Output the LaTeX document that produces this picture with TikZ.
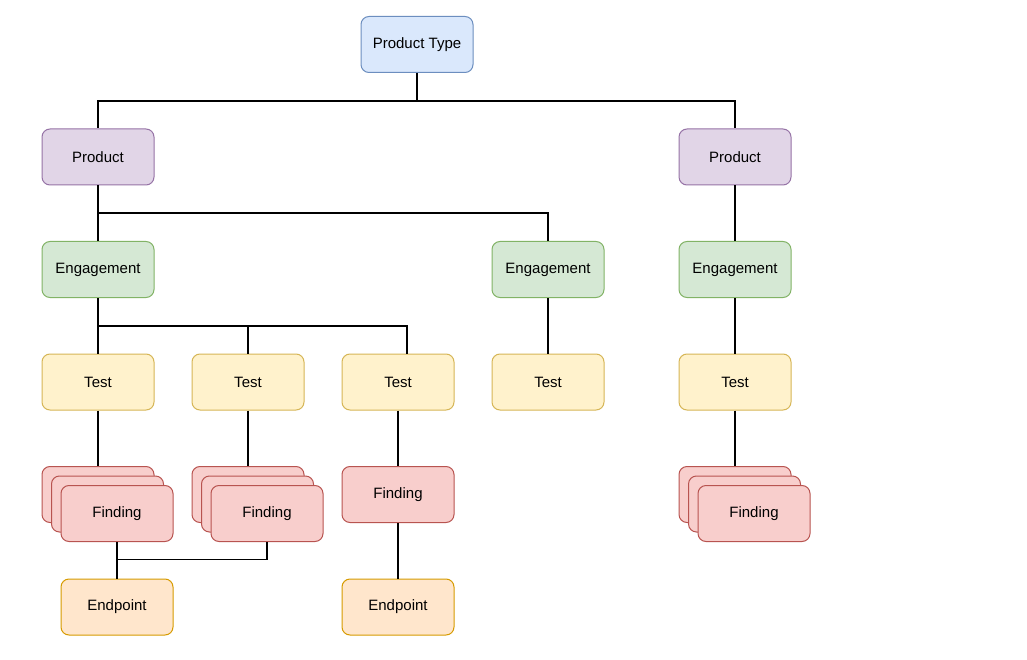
\documentclass[tikz,border=0pt]{standalone}
\usepackage{fontspec}
\setmainfont{Liberation Sans}
\begin{document}
\begin{tikzpicture}[x=1pt,y=-1pt,
  box/.style={draw, rounded corners=8pt, line width=1pt, minimum width=112pt, minimum height=56pt, inner sep=0pt, font=\fontsize{15}{17}\selectfont, text=black},
  ptype/.style={box, fill=bluef, draw=blued},
  prod/.style={box, fill=purf, draw=purd},
  eng/.style={box, fill=greenf, draw=greend},
  tst/.style={box, fill=yelf, draw=yeld},
  fnd/.style={box, fill=redf, draw=redd},
  endp/.style={box, fill=orf, draw=ord},
  conn/.style={draw=black, line width=1.1pt}]
\definecolor{bluef}{HTML}{DAE8FC}\definecolor{blued}{HTML}{6C8EBF}
\definecolor{purf}{HTML}{E1D5E7}\definecolor{purd}{HTML}{9673A6}
\definecolor{greenf}{HTML}{D5E8D4}\definecolor{greend}{HTML}{82B366}
\definecolor{yelf}{HTML}{FFF2CC}\definecolor{yeld}{HTML}{D6B656}
\definecolor{redf}{HTML}{F8CECC}\definecolor{redd}{HTML}{B85450}
\definecolor{orf}{HTML}{FFE6CC}\definecolor{ord}{HTML}{D79B00}
\useasboundingbox (0,0) rectangle (1027,660);
\fill[white] (0,0) rectangle (1027,660);
% nodes
\node[ptype] (pt) at (417,44.5) {Product Type};
\node[prod] (p1) at (98,157) {Product};
\node[prod] (p2) at (735,157) {Product};
\node[eng] (e1) at (98,269.5) {Engagement};
\node[eng] (e2) at (548,269.5) {Engagement};
\node[eng] (e3) at (735,269.5) {Engagement};
\node[tst] (t1) at (98,382) {Test};
\node[tst] (t2) at (248,382) {Test};
\node[tst] (t3) at (398,382) {Test};
\node[tst] (t4) at (548,382) {Test};
\node[tst] (t5) at (735,382) {Test};
% finding stacks
\node[fnd] (f1a) at (98,494.5) {};
\node[fnd] (f1b) at (107.5,504) {};
\node[fnd] (f1) at (117,513.5) {Finding};
\node[fnd] (f2a) at (248,494.5) {};
\node[fnd] (f2b) at (257.5,504) {};
\node[fnd] (f2) at (267,513.5) {Finding};
\node[fnd] (f3) at (398,494.5) {Finding};
\node[fnd] (f5a) at (735,494.5) {};
\node[fnd] (f5b) at (744.5,504) {};
\node[fnd] (f5) at (754,513.5) {Finding};
\node[endp] (ep1) at (117,607) {Endpoint};
\node[endp] (ep3) at (398,607) {Endpoint};
% connectors
\coordinate (j0) at (417,101);
\coordinate (j1) at (98,213);
\coordinate (j2) at (98,326);
\coordinate (j3) at (117,559.5);
\draw[conn] (pt.south) -- (j0) -| (p1.north);
\draw[conn] (j0) -| (p2.north);
\draw[conn] (p1.south) -- (e1.north);
\draw[conn] (j1) -| (e2.north);
\draw[conn] (p2.south) -- (e3.north);
\draw[conn] (e1.south) -- (t1.north);
\draw[conn] (j2) -| (t2.north);
\draw[conn] (j2) -| ([xshift=9pt]t3.north);
\draw[conn] (e2.south) -- (t4.north);
\draw[conn] (e3.south) -- (t5.north);
\draw[conn] (t1.south) -- (f1a.north);
\draw[conn] (t2.south) -- (f2a.north);
\draw[conn] (t3.south) -- (f3.north);
\draw[conn] (t5.south) -- (f5a.north);
\draw[conn] (f1.south) -- (ep1.north);
\draw[conn] (f2.south) |- (j3);
\draw[conn] (f3.south) -- (ep3.north);
\end{tikzpicture}
\end{document}
